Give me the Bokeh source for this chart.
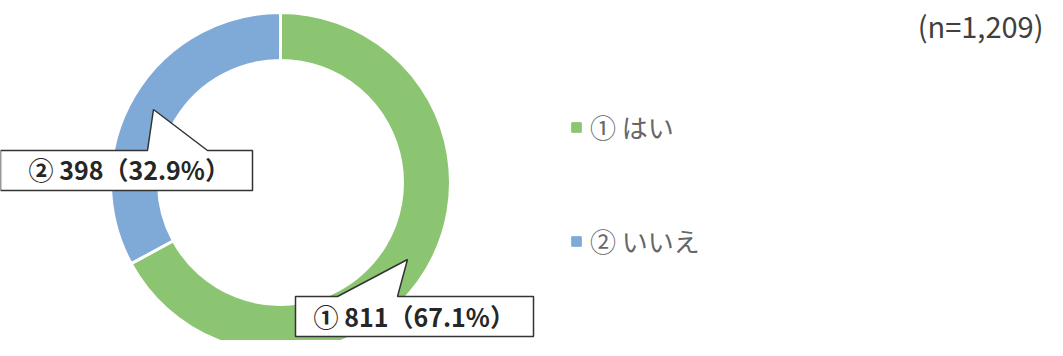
import numpy as np
from bokeh.plotting import figure
from bokeh.models import Range1d, Legend, LegendItem, ColumnDataSource
from bokeh.core.properties import value
from bokeh.embed import file_html
from bokeh.resources import INLINE

# ---- data ----
marks = ["①", "②"]
names = ["はい", "いいえ"]
counts = [811, 398]
percents = [67.1, 32.9]
colors = ["#8cc572", "#7faad8"]
n_label = "(n=1,209)"

W, H = 1047, 340
p = figure(width=W, height=H, x_range=Range1d(0, W), y_range=Range1d(0, H),
           output_backend="svg", toolbar_location=None, min_border=0)
p.axis.visible = False
p.grid.visible = False
p.outline_line_color = None
p.background_fill_color = "white"
p.border_fill_color = "white"

# donut
cx, cy = 280, 158
r_in, r_out = 122, 170
total = float(sum(counts))
fr = np.array(counts) / total
cum = np.concatenate([[0], np.cumsum(fr)])
start = np.pi / 2 - 2 * np.pi * cum[:-1]
end = np.pi / 2 - 2 * np.pi * cum[1:]
src = ColumnDataSource(dict(start=start, end=end, color=colors))
p.annular_wedge(x=cx, y=cy, inner_radius=r_in, outer_radius=r_out,
                start_angle="start", end_angle="end", direction="clock",
                fill_color="color", line_color="white", line_width=3, source=src)

# callouts: (polygon xs, polygon ys, text x, text centre y)
callouts = [
    ([295, 337, 407, 397, 533, 533, 295], [44, 44, 81, 44, 44, 4, 4], 313, 25),
    ([0, 147, 153, 207, 252, 252, 0], [190, 190, 231, 190, 190, 150, 150], 28, 172),
]
for i, (xs, ys, tx, ty) in enumerate(callouts):
    p.patch(xs, ys, fill_color="white", line_color="#333333", line_width=1.5)
    label = f"{marks[i]}  {counts[i]}（{percents[i]:.1f}%）"
    p.text(x=[tx], y=[ty], text=[label], text_align="left", text_baseline="middle",
           text_font=value("Noto Sans CJK JP"), text_font_style="bold",
           text_font_size="25px", text_color="#262626")

# legend
items = []
for i in range(len(names)):
    r = p.scatter(x=[-100], y=[-100], marker="square", size=10,
                  fill_color=colors[i], line_color=colors[i])
    items.append(LegendItem(label=f"{marks[i]} {names[i]}", renderers=[r]))
leg = Legend(items=items, location=(564, 81), orientation="vertical",
             glyph_width=24, glyph_height=26, label_height=26, spacing=77,
             label_standoff=2, padding=0, margin=0,
             label_text_font="Noto Sans CJK JP", label_text_font_size="26px",
             label_text_color="#666666", border_line_alpha=0,
             background_fill_alpha=0)
p.add_layout(leg, "center")

# n label
p.text(x=[1043], y=[316], text=[n_label], text_align="right", text_baseline="middle",
       text_font=value("Noto Sans CJK JP"), text_font_size="29px", text_color="#404040")

open("out.html", "w").write(file_html(p, INLINE))
